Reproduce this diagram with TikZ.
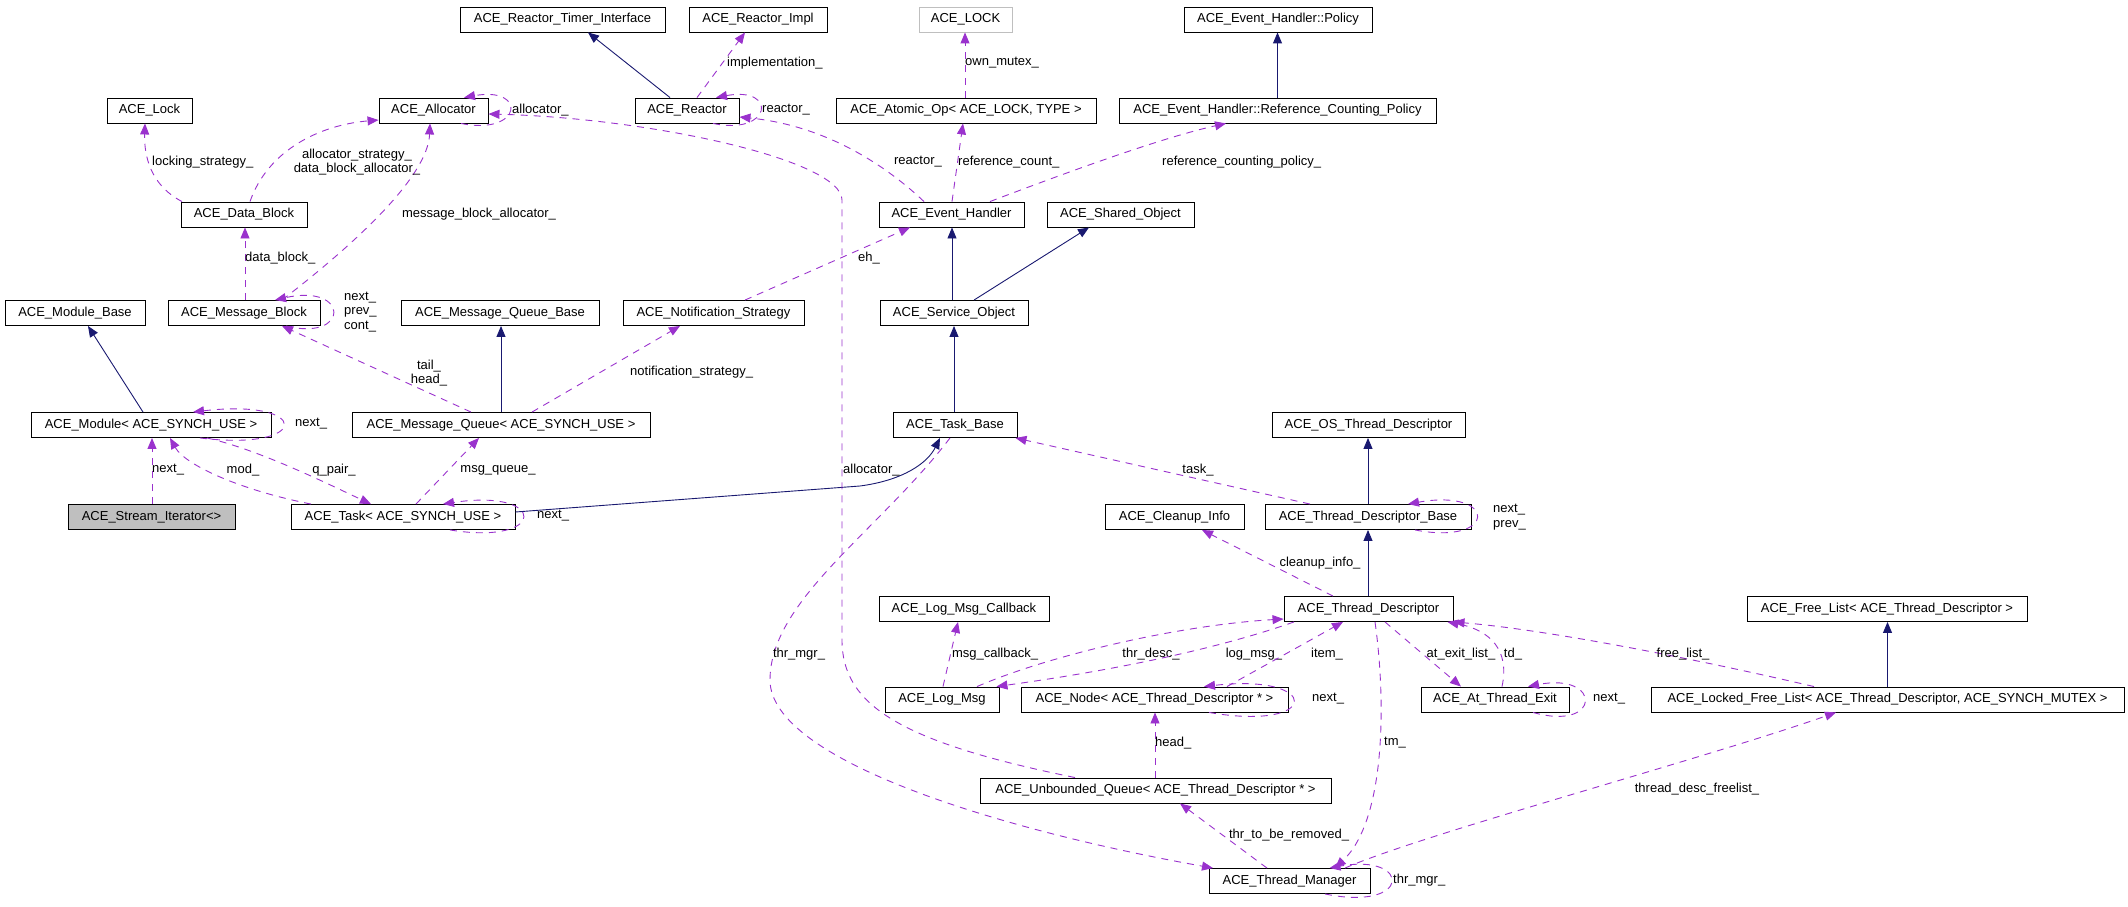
\documentclass[tikz,border=0pt]{standalone}
\usepackage{fontspec}
\setmainfont{Liberation Sans}
\usetikzlibrary{arrows.meta}
\definecolor{inhc}{RGB}{25,25,112}
\definecolor{usec}{RGB}{154,50,205}
\definecolor{grayc}{RGB}{191,191,191}
\begin{document}
\begin{tikzpicture}[x=1pt,y=-1pt,
  font=\fontsize{13}{14.5}\selectfont,
  cls/.style={draw=black, line width=0.9pt, minimum height=25pt, inner sep=0pt, fill=white},
  inh/.style={draw=inhc, line width=0.9pt, -{Triangle[length=11pt,width=9pt]}},
  use/.style={draw=usec, line width=0.9pt, dash pattern=on 7pt off 6pt, -{Triangle[length=11pt,width=9pt]}},
  lbl/.style={inner sep=0pt, text=black},
  lblw/.style={lbl, anchor=west, align=left}]
\useasboundingbox (0,0) rectangle (2128,907);
% ---------------- nodes ----------------
\node[cls, minimum width=205pt] (ntimer) at (562.5,19.5) {ACE\_Reactor\_Timer\_Interface};
\node[cls, minimum width=138pt] (nimpl) at (758,19.5) {ACE\_Reactor\_Impl};
\node[cls, draw=grayc, minimum width=93pt] (nLOCK) at (965.5,19.5) {ACE\_LOCK};
\node[cls, minimum width=188pt] (npolicy) at (1278,19.5) {ACE\_Event\_Handler::Policy};
\node[cls, minimum width=85pt] (nlock) at (149.5,110.5) {ACE\_Lock};
\node[cls, minimum width=109pt] (nalloc) at (433.5,110.5) {ACE\_Allocator};
\node[cls, minimum width=104pt] (nreactor) at (687,110.5) {ACE\_Reactor};
\node[cls, minimum width=260pt] (natomic) at (966,110.5) {ACE\_Atomic\_Op< ACE\_LOCK, TYPE >};
\node[cls, minimum width=317pt] (nrefpol) at (1277.5,110.5) {ACE\_Event\_Handler::Reference\_Counting\_Policy};
\node[cls, minimum width=126pt] (ndatablock) at (244,214.5) {ACE\_Data\_Block};
\node[cls, minimum width=145pt] (nevh) at (951.5,214.5) {ACE\_Event\_Handler};
\node[cls, minimum width=147pt] (nshared) at (1120.5,214.5) {ACE\_Shared\_Object};
\node[cls, minimum width=140pt] (nmodbase) at (75,313) {ACE\_Module\_Base};
\node[cls, minimum width=152pt] (nmsgblock) at (244,313) {ACE\_Message\_Block};
\node[cls, minimum width=198pt] (nmqbase) at (500,313) {ACE\_Message\_Queue\_Base};
\node[cls, minimum width=181pt] (nnotif) at (713.5,313) {ACE\_Notification\_Strategy};
\node[cls, minimum width=148pt] (nsvcobj) at (954,313) {ACE\_Service\_Object};
\node[cls, minimum width=240pt] (nmodule) at (151,425) {ACE\_Module< ACE\_SYNCH\_USE >};
\node[cls, minimum width=298pt] (nmq) at (501,425) {ACE\_Message\_Queue< ACE\_SYNCH\_USE >};
\node[cls, minimum width=124pt] (ntaskbase) at (955,425) {ACE\_Task\_Base};
\node[cls, minimum width=193pt] (nostd) at (1368.5,425) {ACE\_OS\_Thread\_Descriptor};
\node[cls, fill=grayc, minimum width=167pt] (nstreamit) at (151.5,517) {ACE\_Stream\_Iterator<>};
\node[cls, minimum width=224pt] (ntask) at (403,517) {ACE\_Task< ACE\_SYNCH\_USE >};
\node[cls, minimum width=139pt] (ncleanup) at (1174.5,517) {ACE\_Cleanup\_Info};
\node[cls, minimum width=206pt] (ntdbase) at (1368,517) {ACE\_Thread\_Descriptor\_Base};
\node[cls, minimum width=170pt] (nlogcb) at (964,609) {ACE\_Log\_Msg\_Callback};
\node[cls, minimum width=169pt] (ntd) at (1368.5,609) {ACE\_Thread\_Descriptor};
\node[cls, minimum width=280pt] (nfreelist) at (1887,609) {ACE\_Free\_List< ACE\_Thread\_Descriptor >};
\node[cls, minimum width=114pt] (nlogmsg) at (942,699.5) {ACE\_Log\_Msg};
\node[cls, minimum width=267pt] (nnode) at (1154.5,699.5) {ACE\_Node< ACE\_Thread\_Descriptor * >};
\node[cls, minimum width=148pt] (nate) at (1495,699.5) {ACE\_At\_Thread\_Exit};
\node[cls, minimum width=473pt] (nlfl) at (1887.5,699.5) {ACE\_Locked\_Free\_List< ACE\_Thread\_Descriptor, ACE\_SYNCH\_MUTEX >};
\node[cls, minimum width=351pt] (nuq) at (1155.5,790.5) {ACE\_Unbounded\_Queue< ACE\_Thread\_Descriptor * >};
\node[cls, minimum width=161pt] (ntm) at (1289.5,881) {ACE\_Thread\_Manager};
% ---------------- inheritance ----------------
\draw[inh] ([xshift=-17pt]nreactor.north) -- ([xshift=25.5pt]ntimer.south);
\draw[inh] (nrefpol.north) -- ([xshift=-0.5pt]npolicy.south);
\draw[inh] ([xshift=-2pt]nsvcobj.north) -- ([xshift=0.5pt]nevh.south);
\draw[inh] ([xshift=20pt]nsvcobj.north) -- ([xshift=-31.5pt]nshared.south);
\draw[inh] ([xshift=-1pt]ntaskbase.north) -- (nsvcobj.south);
\draw[inh] ([xshift=-8pt]nmodule.north) -- ([xshift=13pt]nmodbase.south);
\draw[inh] (nmq.north) -- ([xshift=1pt]nmqbase.south);
\draw[inh] ([yshift=5pt]ntask.east) -- (860,486) .. controls (905,480) and (928,462) .. ([xshift=-15pt]ntaskbase.south);
\draw[inh] (ntdbase.north) -- ([xshift=-0.5pt]nostd.south);
\draw[inh] ([xshift=-0.5pt]ntd.north) -- (ntdbase.south);
\draw[inh] (nlfl.north) -- ([xshift=0.5pt]nfreelist.south);
% ---------------- usage ----------------
\draw[use] ([xshift=10pt]nreactor.north) -- ([xshift=-13pt]nimpl.south);
\node[lblw] (l1) at (727,63) {implementation\_};
\draw[use] ([xshift=26pt]nreactor.south) .. controls (772,136) and (778,86) .. ([xshift=29pt]nreactor.north);
\node[lblw] (l2) at (762,110) {reactor\_};
\draw[use] ([xshift=-1pt]natomic.north) -- ([xshift=-0.5pt]nLOCK.south);
\node[lblw] (l3) at (965,63) {own\_mutex\_};
\draw[use] ([xshift=27.5pt]nalloc.south) .. controls (522,136) and (528,86) .. ([xshift=30.5pt]nalloc.north);
\node[lblw] (l4) at (512,110) {allocator\_};
\draw[use] ([xshift=-80.5pt]nuq.north) .. controls (900,742) and (842,705) .. (842,640) -- (842,200) .. controls (842,160) and (650,118) .. ([yshift=-3.5pt]nalloc.east);
\node[lblw] (l5) at (843,470) {allocator\_};
\draw[use] ([xshift=-27.5pt]nevh.north) .. controls (880,160) and (820,125) .. ([yshift=-6.5pt]nreactor.east);
\node[lbl] (l6) at (918,162) {reactor\_};
\draw[use] ([xshift=0.5pt]nevh.north) -- ([xshift=-3pt]natomic.south);
\node[lblw] (l7) at (958,162) {reference\_count\_};
\draw[use] ([xshift=38.5pt]nevh.north) .. controls (1060,175) and (1160,138) .. ([xshift=-51.5pt]nrefpol.south);
\node[lblw] (l8) at (1162,162) {reference\_counting\_policy\_};
\draw[use] ([xshift=31.5pt]nnotif.north) -- ([xshift=-41.5pt]nevh.south);
\node[lblw] (l9) at (858,258) {eh\_};
\draw[use] ([xshift=31pt]nmq.north) -- ([xshift=-33.5pt]nnotif.south);
\node[lblw] (l10) at (630,372) {notification\_strategy\_};
\draw[use] ([xshift=-30pt]nmq.north) -- ([xshift=38pt]nmsgblock.south);
\node[lbl, align=center] (l11) at (429,373) {tail\_\\head\_};
\draw[use] ([xshift=42pt]nmsgblock.south) .. controls (350,342) and (350,283) .. ([xshift=31pt]nmsgblock.north);
\node[lblw] (l12) at (344,312) {next\_\\prev\_\\cont\_};
\draw[use] ([xshift=1pt]nmsgblock.north) -- ([xshift=1pt]ndatablock.south);
\node[lblw] (l13) at (245,258) {data\_block\_};
\draw[use] ([xshift=38pt]nmsgblock.north) .. controls (360,240) and (428,175) .. ([xshift=-3.5pt]nalloc.south);
\node[lbl] (l14) at (479,214) {message\_block\_allocator\_};
\draw[use] ([xshift=-62pt]ndatablock.north) .. controls (150,185) and (144,155) .. ([xshift=-4.5pt]nlock.south);
\node[lblw] (l15) at (152,162) {locking\_strategy\_};
\draw[use] ([xshift=6pt]ndatablock.north) .. controls (268,150) and (320,125) .. ([yshift=-9.5pt]nalloc.west);
\node[lbl, align=center] (l16) at (357,162) {allocator\_strategy\_\\data\_block\_allocator\_};
\draw[use] ([xshift=49pt]nmodule.south) .. controls (312,452) and (312,398) .. ([xshift=42pt]nmodule.north);
\node[lblw] (l17) at (295,424) {next\_};
\draw[use] ([xshift=0.5pt]nstreamit.north) -- ([xshift=1pt]nmodule.south);
\node[lblw] (l18) at (152,470) {next\_};
\draw[use] ([xshift=-92pt]ntask.north) .. controls (240,490) and (185,465) .. ([xshift=19pt]nmodule.south);
\node[lbl] (l19) at (243,470) {mod\_};
\draw[use] ([xshift=56pt]nmodule.south) .. controls (260,450) and (330,485) .. ([xshift=-32pt]ntask.north);
\node[lbl] (l20) at (334,470) {q\_pair\_};
\draw[use] ([xshift=13pt]ntask.north) -- ([xshift=-22pt]nmq.south);
\node[lbl] (l21) at (498,470) {msg\_queue\_};
\draw[use] ([xshift=47pt]ntask.south) .. controls (548,546) and (548,488) .. ([xshift=40pt]ntask.north);
\node[lblw] (l22) at (537,516) {next\_};
\draw[use] ([xshift=-58pt]ntdbase.north) -- ([xshift=-2pt]ntaskbase.south east);
\node[lbl] (l23) at (1198,470) {task\_};
\draw[use] ([xshift=47pt]ntdbase.south) .. controls (1498,546) and (1498,488) .. ([xshift=40pt]ntdbase.north);
\node[lblw] (l24) at (1493,517) {next\_\\prev\_};
\draw[use] ([xshift=-35.5pt]ntd.north) -- ([xshift=27.5pt]ncleanup.south);
\node[lbl] (l25) at (1320,563) {cleanup\_info\_};
\draw[use] ([xshift=-5pt]ntaskbase.south) .. controls (880,530) and (770,600) .. (770,680) .. controls (770,760) and (1000,830) .. ([xshift=-76.5pt]ntm.north);
\node[lbl] (l26) at (799,654) {thr\_mgr\_};
\draw[use] ([xshift=35.5pt]ntm.south) .. controls (1412,912) and (1412,853) .. ([xshift=40pt]ntm.north);
\node[lblw] (l27) at (1393,880) {thr\_mgr\_};
\draw[use] ([xshift=6.5pt]ntd.south) .. controls (1386,700) and (1386,820) .. ([xshift=45.5pt]ntm.north);
\node[lblw] (l28) at (1384,743) {tm\_};
\draw[use] ([xshift=-22.5pt]ntm.north) -- ([xshift=24.5pt]nuq.south);
\node[lbl] (l29) at (1289,835) {thr\_to\_be\_removed\_};
\draw[use] ([xshift=55.5pt]ntm.north) .. controls (1420,835) and (1700,760) .. ([xshift=-51.5pt]nlfl.south);
\node[lbl] (l30) at (1697,789) {thread\_desc\_freelist\_};
\draw[use] ([xshift=-0.5pt]nuq.north) -- ([xshift=0.5pt]nnode.south);
\node[lblw] (l31) at (1155,743) {head\_};
\draw[use] ([xshift=54.5pt]nnode.south) .. controls (1322,732) and (1322,673) .. ([xshift=49.5pt]nnode.north);
\node[lblw] (l32) at (1312,699) {next\_};
\draw[use] ([xshift=1pt]nlogmsg.north) -- ([xshift=-6pt]nlogcb.south);
\node[lbl] (l33) at (995,654) {msg\_callback\_};
\draw[use] ([xshift=35pt]nlogmsg.north) .. controls (1050,655) and (1180,625) .. ([yshift=-10pt]ntd.west);
\node[lbl] (l34) at (1151,654) {thr\_desc\_};
\draw[use] ([xshift=-74.5pt]ntd.south) .. controls (1200,655) and (1080,675) .. ([xshift=-3pt]nlogmsg.north east);
\node[lbl] (l35) at (1254,654) {log\_msg\_};
\draw[use] ([xshift=72.5pt]nnode.north) -- ([xshift=-25.5pt]ntd.south);
\node[lbl] (l36) at (1327,654) {item\_};
\draw[use] ([xshift=16.5pt]ntd.south) -- ([xshift=-34pt]nate.north);
\node[lbl] (l37) at (1461,654) {at\_exit\_list\_};
\draw[use] ([xshift=7pt]nate.north) .. controls (1510,650) and (1490,630) .. ([xshift=-6pt]ntd.south east);
\node[lbl] (l38) at (1513,654) {td\_};
\draw[use] ([xshift=38pt]nate.south) .. controls (1602,732) and (1602,672) .. ([xshift=33pt]nate.north);
\node[lblw] (l39) at (1593,699) {next\_};
\draw[use] ([xshift=-73.5pt]nlfl.north) .. controls (1700,660) and (1550,630) .. (ntd.south east);
\node[lbl] (l40) at (1683,654) {free\_list\_};
\end{tikzpicture}
\end{document}
